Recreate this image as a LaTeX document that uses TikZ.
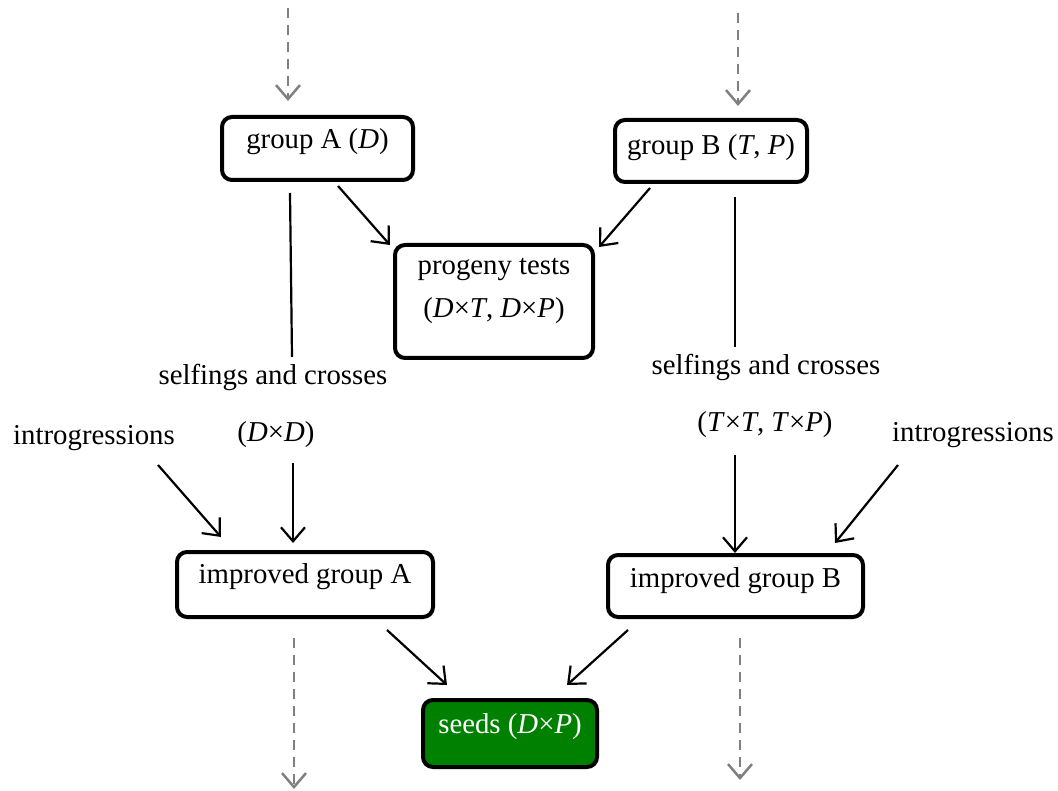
\documentclass[tikz,border=0pt]{standalone}
\usepackage{fontspec}
\setmainfont{Liberation Serif}
\usetikzlibrary{arrows.meta}
\definecolor{seedgreen}{RGB}{0,128,0}
\definecolor{dashgray}{RGB}{128,128,128}
\begin{document}
\begin{tikzpicture}[x=1pt,y=-1pt,
  every node/.style={font=\fontsize{28.8}{34}\selectfont},
  stagebox/.style={draw=black,line width=4pt,rounded corners=10pt,inner xsep=0pt,inner ysep=0pt,anchor=base,fill=white},
  lbl/.style={anchor=base,inner sep=0pt},
  arr/.style={line width=2.2pt,-{Straight Barb[length=14pt,width=24pt,line width=2.2pt]}},
  plain/.style={line width=2.2pt},
  darr/.style={line width=2.5pt,dashgray,dash pattern=on 10pt off 7pt,-{Straight Barb[length=14pt,width=24pt,line width=2.5pt]}}
]
\useasboundingbox (0,0) rectangle (1058,791);
% boxes
\node[stagebox,minimum width=191pt,text height=32pt,text depth=31pt] (gA) at (317.5,149) {group A (\textit{D})};
\node[stagebox,minimum width=192pt,text height=35pt,text depth=27pt] (gB) at (711,155) {group B (\textit{T}, \textit{P})};
\node[stagebox,minimum width=198pt,text height=30pt,text depth=83pt] (prog) at (494,275)
  {\begin{tabular}[t]{@{}c@{}}progeny tests\\[9pt](\textit{D}\texttimes\textit{T}, \textit{D}\texttimes\textit{P})\end{tabular}};
\node[stagebox,minimum width=256pt,text height=31pt,text depth=34pt] (iA) at (305,583) {improved group A};
\node[stagebox,minimum width=255pt,text height=32pt,text depth=30pt] (iB) at (735.5,587) {improved group B};
\node[stagebox,fill=seedgreen,text=white,minimum width=174pt,text height=33pt,text depth=34pt] (seeds) at (510,733) {seeds (\textit{D}\texttimes\textit{P})};
% labels
\node[lbl] (selfA) at (273,385) {selfings and crosses};
\node[lbl] (dd) at (276,442) {(\textit{D}\texttimes\textit{D})};
\node[lbl] (introA) at (94,445) {introgressions};
\node[lbl] (selfB) at (766,375) {selfings and crosses};
\node[lbl] (tt) at (765,432) {(\textit{T}\texttimes\textit{T}, \textit{T}\texttimes\textit{P})};
\node[lbl] (introB) at (973,442) {introgressions};
% coordinates
\coordinate (topA) at (288,8);
\coordinate (topAe) at (288,101);
\coordinate (topB) at (738,13);
\coordinate (topBe) at (738,106);
\coordinate (gAl) at (290,193);
\coordinate (gAle) at (292,357);
\coordinate (ddS) at (293,463);
\coordinate (ddE) at (293,543);
\coordinate (inAS) at (158,465);
\coordinate (inAE) at (221,537);
\coordinate (gBl) at (735,197);
\coordinate (gBle) at (735,347);
\coordinate (ttS) at (735,455);
\coordinate (ttE) at (735,553);
\coordinate (inBS) at (898,465);
\coordinate (inBE) at (835,543);
\coordinate (gApS) at (338,186);
\coordinate (gApE) at (390,245);
\coordinate (gBpS) at (650,188);
\coordinate (gBpE) at (599,247);
\coordinate (iAsS) at (387,630);
\coordinate (iAsE) at (447,685);
\coordinate (iBsS) at (628,630);
\coordinate (iBsE) at (567,685);
\coordinate (botA) at (294,638);
\coordinate (botAe) at (294,789);
\coordinate (botB) at (740,638);
\coordinate (botBe) at (740,780);
% connectors
\draw[darr] (topA) -- (topAe);
\draw[darr] (topB) -- (topBe);
\draw[plain] (gAl) -- (gAle);
\draw[plain] (gBl) -- (gBle);
\draw[arr] (ddS) -- (ddE);
\draw[arr] (ttS) -- (ttE);
\draw[arr] (inAS) -- (inAE);
\draw[arr] (inBS) -- (inBE);
\draw[arr] (gApS) -- (gApE);
\draw[arr] (gBpS) -- (gBpE);
\draw[arr] (iAsS) -- (iAsE);
\draw[arr] (iBsS) -- (iBsE);
\draw[darr] (botA) -- (botAe);
\draw[darr] (botB) -- (botBe);
\end{tikzpicture}
\end{document}
